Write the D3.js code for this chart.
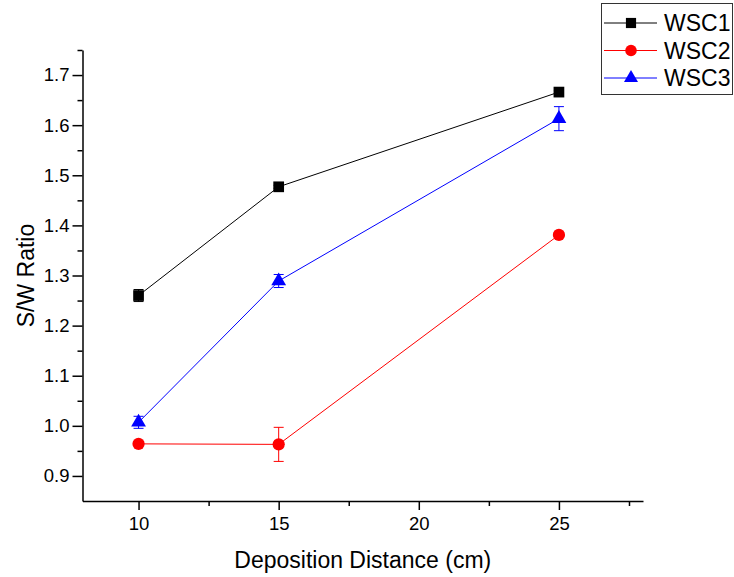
<!DOCTYPE html>
<html>
<head>
<meta charset="utf-8">
<script src="https://cdn.jsdelivr.net/npm/d3@7"></script>
<style>
  body { margin: 0; background: #fff; }
  svg text { font-family: "Liberation Sans", Arial, sans-serif; fill: #000; }
</style>
</head>
<body>
<script>
const w = 734;
const h = 577;

// data
const distances = [10, 15, 25];
const seriesNames = ["WSC1", "WSC2", "WSC3"];
const wsc1 = [1.260, 1.477, 1.666];
const wsc1Err = [0.012, 0.003, 0.003];
const wsc2 = [0.964, 0.963, 1.381];
const wsc2Err = [0.003, 0.034, 0.003];
const wsc3 = [1.007, 1.289, 1.613];
const wsc3Err = [0.012, 0.013, 0.024];
const xTicks = [10, 15, 20, 25];
const yTicks = [0.9, 1.0, 1.1, 1.2, 1.3, 1.4, 1.5, 1.6, 1.7];

const series = [
  { name: seriesNames[0], values: wsc1, errs: wsc1Err, color: "#000000", shape: d3.symbolSquare, size: 115 },
  { name: seriesNames[1], values: wsc2, errs: wsc2Err, color: "#ff0000", shape: d3.symbolCircle, size: 118 },
  { name: seriesNames[2], values: wsc3, errs: wsc3Err, color: "#0000ff", shape: d3.symbolTriangle, size: 95 }
];

const svg = d3.select("body")
              .append("svg")
              .attr("width", w)
              .attr("height", h);

const xScale = d3.scaleLinear()
                 .domain([8, 28])
                 .range([82.5, 643]);

const yScale = d3.scaleLinear()
                 .domain([0.85, 1.75])
                 .range([501, 50]);

// minor ticks first
svg.append("g")
   .attr("transform", "translate(0,501)")
   .call(d3.axisBottom(xScale).tickValues([12.5, 17.5, 22.5, 27.5]).tickSize(5).tickFormat(""))
   .call(g => g.select(".domain").remove());

svg.append("g")
   .attr("transform", "translate(82.5,0)")
   .call(d3.axisLeft(yScale).tickValues(d3.range(0.95, 1.8, 0.1)).tickSize(5).tickFormat(""))
   .call(g => g.select(".domain").remove());

const xAxis = d3.axisBottom(xScale)
                .tickValues(xTicks)
                .tickSize(9)
                .tickPadding(7)
                .tickSizeOuter(0);

svg.append("g")
   .attr("transform", "translate(0,501)")
   .call(xAxis)
   .call(g => g.selectAll("text").style("font-size", "18.5px"));

const yAxis = d3.axisLeft(yScale)
                .tickValues(yTicks)
                .tickFormat(d3.format(".1f"))
                .tickSize(10)
                .tickPadding(3)
                .tickSizeOuter(0);

svg.append("g")
   .attr("transform", "translate(82.5,0)")
   .call(yAxis)
   .call(g => g.selectAll("text").style("font-size", "18.5px"));

svg.selectAll(".domain, .tick line").attr("stroke", "#000").attr("stroke-width", 1.5);

// axis titles
svg.append("text")
   .attr("x", (82.5 + 643) / 2)
   .attr("y", 568)
   .attr("text-anchor", "middle")
   .style("font-size", "23px")
   .text("Deposition Distance (cm)");

svg.append("text")
   .attr("transform", "translate(34," + ((50 + 501) / 2) + ") rotate(-90)")
   .attr("text-anchor", "middle")
   .style("font-size", "23px")
   .text("S/W Ratio");

const line = d3.line()
               .x((d, i) => xScale(distances[i]))
               .y(d => yScale(d));

series.forEach(s => {
  const g = svg.append("g");

  g.append("path")
   .datum(s.values)
   .attr("d", line)
   .attr("fill", "none")
   .attr("stroke", s.color)
   .attr("stroke-width", 1);

  // error bars
  const eb = g.selectAll(".eb")
              .data(s.values)
              .enter()
              .append("g");
  eb.append("line")
    .attr("x1", (d, i) => xScale(distances[i]))
    .attr("x2", (d, i) => xScale(distances[i]))
    .attr("y1", (d, i) => yScale(d - s.errs[i]))
    .attr("y2", (d, i) => yScale(d + s.errs[i]))
    .attr("stroke", s.color);
  [-1, 1].forEach(sign => {
    eb.append("line")
      .attr("x1", (d, i) => xScale(distances[i]) - 5)
      .attr("x2", (d, i) => xScale(distances[i]) + 5)
      .attr("y1", (d, i) => yScale(d + sign * s.errs[i]))
      .attr("y2", (d, i) => yScale(d + sign * s.errs[i]))
      .attr("stroke", s.color);
  });

  g.selectAll(".pt")
   .data(s.values)
   .enter()
   .append("path")
   .attr("d", d3.symbol().type(s.shape).size(s.size))
   .attr("transform", (d, i) => "translate(" + xScale(distances[i]) + "," + yScale(d) + ")")
   .attr("fill", s.color);
});

// legend
const legend = svg.append("g");
legend.append("rect")
      .attr("x", 601.5)
      .attr("y", 3.5)
      .attr("width", 131)
      .attr("height", 91)
      .attr("fill", "#fff")
      .attr("stroke", "#333")
      .attr("stroke-width", 1);

series.forEach((s, i) => {
  const cy = 23 + i * 27.5;
  legend.append("line")
        .attr("x1", 604)
        .attr("x2", 657)
        .attr("y1", cy)
        .attr("y2", cy)
        .attr("stroke", s.color)
        .attr("stroke-width", 1);
  legend.append("path")
        .attr("d", d3.symbol().type(s.shape).size(s.size * 0.9))
        .attr("transform", "translate(631," + cy + ")")
        .attr("fill", s.color);
  legend.append("text")
        .attr("x", 664)
        .attr("y", cy + 8)
        .style("font-size", "23px")
        .text(s.name);
});
</script>
</body>
</html>
